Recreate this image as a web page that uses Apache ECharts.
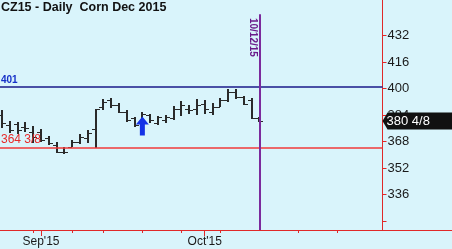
<!DOCTYPE html>
<html><head><meta charset="utf-8">
<script src="https://cdn.jsdelivr.net/npm/echarts@6/dist/echarts.min.js"></script>
<style>html,body{margin:0;padding:0;background:#d9f4fb}#c{width:452px;height:249px}</style>
</head><body><div id="c"></div>
<script>
const titleText = 'CZ15 - Daily  Corn Dec 2015';
const dates = ['2015-08-25','2015-08-26','2015-08-27','2015-08-28','2015-08-31','2015-09-01','2015-09-02','2015-09-03','2015-09-04','2015-09-08','2015-09-09','2015-09-10','2015-09-11','2015-09-14','2015-09-15','2015-09-16','2015-09-17','2015-09-18','2015-09-21','2015-09-22','2015-09-23','2015-09-24','2015-09-25','2015-09-28','2015-09-29','2015-09-30','2015-10-01','2015-10-02','2015-10-05','2015-10-06','2015-10-07','2015-10-08','2015-10-09','2015-10-12'];
const opens  = [384,378,378.5,377,373.8,374,370,366,362,365,368,370,375.6,389,393,390,386,382,380,384,379,381,382,388,388,388,391,386,389,393,398,395,393,382];
const highs  = [387,380.6,379.8,379.8,377.4,375.6,371.4,367.7,364.7,369,372.6,375,387.7,393.7,394.5,391.1,387.1,383,386.1,384.5,383.6,384.1,389.7,392.7,390.1,393.6,393.1,391.1,394.2,399.6,399.6,395.6,394.2,383];
const lows   = [376,373.2,372.6,373.8,367.1,367.7,366,361.1,360.5,364.7,366.5,367.1,364.375,387.1,388.1,385.1,380,377,379.5,379,378,379,381,383.6,384.5,384.1,384.5,384.1,388.7,392.1,393.6,390.1,381.5,380];
const closes = [379.2,375,375,376,370.8,369,367,362,361.5,368,371,373,387.5,392,390,386,381,378,385,381,383,383,388,390,387,390,388,389,393,398,395,391,382,380.5];

const yTickValues  = [320,336,352,368,384,400,416,432];
const yLabelValues = [336,352,368,384,400,416,432];
const xTickIndices = [4,5,9,13,18,23,26,28,38,43];
const xMonthIndices = [5,26];
const xMonthLabels = ["Sep'15","Oct'15"];

const resistance = 401, resistanceLabel = '401';
const support = 364.375, supportLabel = '364 3/8';
const lastClose = 380.5, lastLabel = '380 4/8';
const markerIndex = 33, markerLabel = '10/12/15', markerTop = 445, markerLabelPrice = 431;
const arrowIndex = 18, arrowPrice = 377.5;
const xMin = -0.26, xMax = 48.8, yMin = 314.6, yMax = 453.6;

const FONT = 'Liberation Sans, Arial, sans-serif';
const RED = '#e02828';

const chart = echarts.init(document.getElementById('c'), null, {renderer:'canvas'});
chart.setOption({
  animation: false,
  backgroundColor: '#d9f4fb',
  title: {text: titleText, left: 1, top: 1, padding: 0,
    textStyle: {fontSize: 12.5, fontWeight: 'bold', color: '#111', fontFamily: FONT}},
  grid: {left: 0, right: 69.5, top: 0, bottom: 19, containLabel: false},
  xAxis: [{
    type: 'value', min: xMin, max: xMax, position: 'bottom',
    axisLine: {onZero: false, lineStyle: {color: RED, width: 1}},
    axisTick: {customValues: xTickIndices, length: 3, lineStyle: {color: RED}},
    axisLabel: {customValues: xMonthIndices, formatter: v => xMonthLabels[xMonthIndices.indexOf(v)] || '',
      color: '#1a1a1a', fontSize: 12, fontFamily: FONT, margin: 6},
    splitLine: {show: false}
  },{
    type: 'value', min: xMin, max: xMax, position: 'bottom',
    axisLine: {show: false, onZero: false},
    axisTick: {customValues: xMonthIndices, length: 6, lineStyle: {color: RED}},
    axisLabel: {show: false},
    splitLine: {show: false}
  }],
  yAxis: {
    type: 'value', position: 'right', min: yMin, max: yMax,
    axisLine: {show: true, onZero: false, lineStyle: {color: RED, width: 1}},
    axisTick: {show: true, customValues: yTickValues, length: 4, lineStyle: {color: RED}},
    axisLabel: {customValues: yLabelValues, color: '#1a1a1a', fontSize: 13, fontFamily: FONT, margin: 5},
    splitLine: {show: false}
  },
  graphic: [{type: 'line', shape: {x1: 382, y1: 230.5, x2: 452, y2: 230.5}, style: {stroke: RED, lineWidth: 1}}],
  series: [{
    type: 'custom',
    xAxisIndex: 0,
    data: dates.map((d, i) => [i, opens[i], highs[i], lows[i], closes[i]]),
    encode: {x: 0, y: [1, 2, 3, 4]},
    renderItem: function (params, api) {
      const i = api.value(0);
      const ph = api.coord([i, api.value(2)]);
      const pl = api.coord([i, api.value(3)]);
      const po = api.coord([i, api.value(1)]);
      const pc = api.coord([i, api.value(4)]);
      const x = Math.round(ph[0]);
      const col = '#2a2a2a';
      const yo = Math.round(po[1]) + 0.5, yc = Math.round(pc[1]) + 0.5;
      return {type: 'group', children: [
        {type: 'line', shape: {x1: x, y1: Math.round(ph[1]), x2: x, y2: Math.round(pl[1])}, style: {stroke: col, lineWidth: 2}},
        {type: 'line', shape: {x1: x - 4, y1: yo, x2: x, y2: yo}, style: {stroke: col, lineWidth: 1}},
        {type: 'line', shape: {x1: x, y1: yc, x2: x + 4, y2: yc}, style: {stroke: col, lineWidth: 1}}
      ]};
    },
    markLine: {
      symbol: 'none', silent: true, animation: false,
      data: [
        {yAxis: resistance, lineStyle: {color: '#1a1a8a', width: 1.5, type: 'solid'},
          label: {show: true, formatter: resistanceLabel, position: 'insideStartTop', color: '#1530c8',
            fontSize: 10, fontWeight: 'bold', fontFamily: FONT, distance: [1, 2]}},
        {yAxis: support, lineStyle: {color: '#f03a3a', width: 1.5, type: 'solid'},
          label: {show: true, formatter: supportLabel, position: 'insideStartTop', color: '#e82a2a',
            fontSize: 12, fontFamily: FONT, distance: [1, 2]}},
        [{coord: [markerIndex, markerTop], lineStyle: {color: '#7b2a9c', width: 2, type: 'solid'}, label: {show: false}},
         {coord: [markerIndex, yMin]}]
      ]
    },
    markPoint: {
      silent: true, animation: false,
      data: [
        {coord: [arrowIndex, arrowPrice], symbol: 'path://M6.5,0 L13,8 L9,8 L9,19 L4,19 L4,8 L0,8 Z',
          symbolSize: [13, 19], itemStyle: {color: '#1432e6'}, label: {show: false}},
        {coord: [markerIndex, markerLabelPrice], symbol: 'rect', symbolSize: 1, itemStyle: {color: 'rgba(0,0,0,0)'},
          label: {show: true, formatter: markerLabel, rotate: -90, position: 'inside', offset: [0, 7],
            color: '#6a1b8a', fontSize: 10, fontWeight: 'bold', fontFamily: FONT}},
        {coord: [xMax, lastClose], symbol: 'path://M0,8.5 L5,0 L69,0 L69,17 L5,17 Z', symbolSize: [70, 17],
          symbolKeepAspect: false, symbolOffset: [35, 0], itemStyle: {color: '#111'},
          label: {show: true, formatter: lastLabel, position: 'insideLeft', distance: 4, color: '#fff',
            fontSize: 13, fontFamily: FONT}}
      ]
    }
  }]
});
</script></body></html>
